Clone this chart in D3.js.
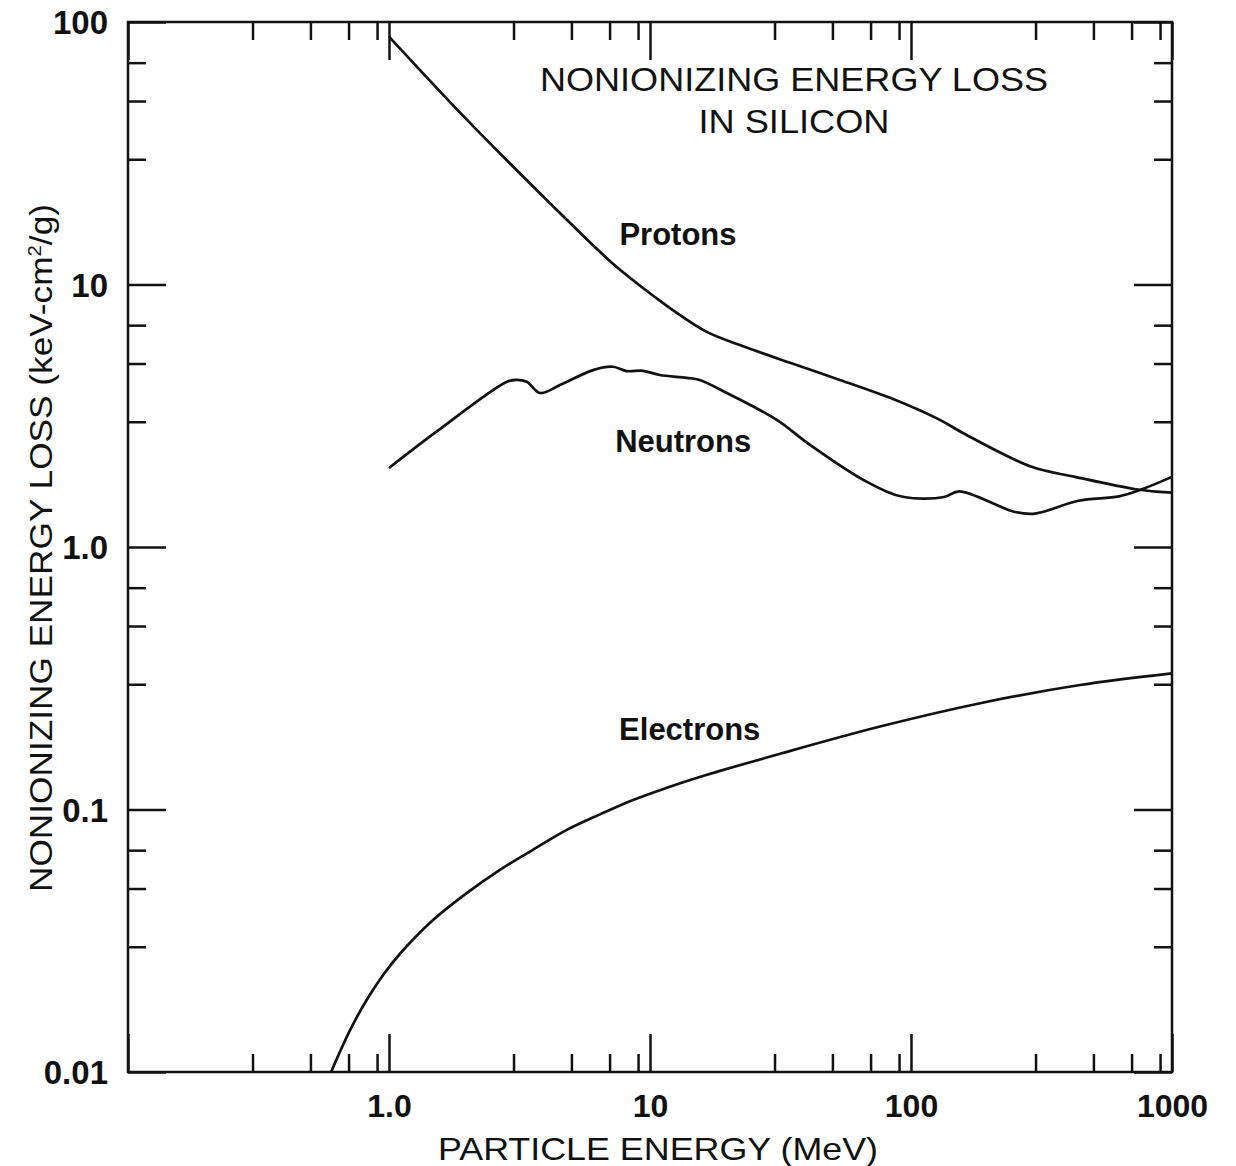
<!DOCTYPE html>
<html>
<head>
<meta charset="utf-8">
<script src="https://cdn.jsdelivr.net/npm/d3@7"></script>
<style>
  body { margin: 0; background: #fff; }
  svg text { font-family: "Liberation Sans", Arial, Helvetica, sans-serif; fill: #111; }
</style>
</head>
<body>
<div id="chart"></div>
<script>
/* DATA ([energy MeV, loss keV-cm2/g]) */
const protons = [
  [1.0, 88], [1.92, 44], [4.02, 21.0], [7.21, 12.0], [10.6, 8.86], [12.2, 8.0],
  [16.5, 6.6], [22.1, 5.88], [34.4, 5.03], [53.4, 4.33], [83.1, 3.70], [129, 3.05],
  [160, 2.70], [290, 2.02], [425, 1.85], [726, 1.66], [1000, 1.61]
];
const neutrons = [
  [1.0, 2.0], [1.52, 2.75], [2.83, 4.26], [3.08, 4.33], [3.37, 4.26], [3.79, 3.86],
  [4.52, 4.14], [6.05, 4.72], [7.21, 4.86], [8.14, 4.68], [9.4, 4.69], [10.9, 4.52],
  [13.8, 4.41], [15.5, 4.33], [19.7, 3.86], [30.6, 3.05], [41, 2.45], [67.8, 1.77],
  [94, 1.55], [134, 1.55], [153, 1.63], [250, 1.36], [298, 1.34], [438, 1.50],
  [627, 1.56], [767, 1.66], [1000, 1.85]
];
const electrons = [
  [0.6, 0.01], [0.71, 0.01446], [0.822, 0.01884], [0.948, 0.02336], [1.10, 0.02815],
  [1.475, 0.0379], [1.99, 0.0481], [2.66, 0.0589], [3.56, 0.0702], [4.80, 0.0836],
  [6.43, 0.0958], [8.61, 0.1087], [11.6, 0.121], [15.5, 0.133], [31.5, 0.163],
  [76.1, 0.207], [184, 0.254], [444, 0.298], [1000, 0.330]
];
const curveNames = ["Protons", "Neutrons", "Electrons"];

const xMajor = [0.1, 1, 10, 100, 1000];
const xMajorLabels = ["", "1.0", "10", "100", "1000"];
const xMinor = [0.3, 0.5, 0.7, 0.9, 3, 5, 7, 9, 30, 50, 70, 90, 300, 500, 700, 900];
const yMajor = [0.01, 0.1, 1, 10, 100];
const yMajorLabels = ["0.01", "0.1", "1.0", "10", "100"];
const yMinor = [0.03, 0.05, 0.07, 0.3, 0.5, 0.7, 3, 5, 7, 30, 50, 70];

const titleLines = ["NONIONIZING ENERGY LOSS", "IN SILICON"];
const xTitle = "PARTICLE ENERGY (MeV)";

/* CONSTANTS */
const width = 1236, height = 1166;
const margin = { top: 22, right: 64, bottom: 94, left: 128 };
const majorLen = 38, minorLen = 18;

const svg = d3.select("#chart").append("svg")
  .attr("width", width)
  .attr("height", height);

const xScale = d3.scaleLog().domain([0.1, 1000]).range([margin.left, width - margin.right]);
const yScale = d3.scaleLog().domain([0.01, 100]).range([height - margin.bottom, margin.top]);

// ticks on all four sides, pointing in
function addAxis(axisFn, scale, values, len, labels, transform, cls) {
  const ax = axisFn(scale).tickValues(values).tickSize(-len).tickSizeOuter(0)
    .tickFormat((d, i) => labels ? labels[i] : "");
  const g = svg.append("g").attr("class", cls).attr("transform", transform).call(ax);
  g.select(".domain").remove();
  g.selectAll(".tick line").attr("stroke", "#111").attr("stroke-width", 2.5);
  return g;
}

const bottomY = height - margin.bottom, rightX = width - margin.right;
addAxis(d3.axisBottom, xScale, xMinor, minorLen, null, `translate(0,${bottomY})`, "xminor");
const xLab = addAxis(d3.axisBottom, xScale, xMajor, majorLen, xMajorLabels, `translate(0,${bottomY})`, "xmajor");
xLab.selectAll(".tick text").attr("y", 22).attr("dy", "0.71em")
  .style("font-size", "32px").style("font-weight", "bold");
addAxis(d3.axisTop, xScale, xMinor, minorLen, null, `translate(0,${margin.top})`, "xminor-top");
addAxis(d3.axisTop, xScale, xMajor, majorLen, null, `translate(0,${margin.top})`, "xmajor-top");

addAxis(d3.axisLeft, yScale, yMinor, minorLen, null, `translate(${margin.left},0)`, "yminor");
const yLab = addAxis(d3.axisLeft, yScale, yMajor, majorLen, yMajorLabels, `translate(${margin.left},0)`, "ymajor");
yLab.selectAll(".tick text").attr("x", -20).attr("dy", "0.36em")
  .style("font-size", "33px").style("font-weight", "bold");
addAxis(d3.axisRight, yScale, yMinor, minorLen, null, `translate(${rightX},0)`, "yminor-right");
addAxis(d3.axisRight, yScale, yMajor, majorLen, null, `translate(${rightX},0)`, "ymajor-right");

// frame
svg.append("rect")
  .attr("x", margin.left).attr("y", margin.top)
  .attr("width", rightX - margin.left).attr("height", bottomY - margin.top)
  .attr("fill", "none").attr("stroke", "#111").attr("stroke-width", 2.5);

// curves
const line = d3.line()
  .x(d => xScale(d[0]))
  .y(d => yScale(d[1]))
  .curve(d3.curveCatmullRom.alpha(0.5));

svg.selectAll("path.curve")
  .data([protons, neutrons, electrons])
  .join("path")
  .attr("class", "curve")
  .attr("fill", "none")
  .attr("stroke", "#111")
  .attr("stroke-width", 2.7)
  .attr("stroke-linejoin", "round")
  .attr("d", line);

// curve labels
const labelPos = [[12.8, 14.1], [13.4, 2.3], [14.2, 0.184]];
svg.selectAll("text.curve-label")
  .data(curveNames)
  .join("text")
  .attr("class", "curve-label")
  .attr("x", (d, i) => xScale(labelPos[i][0]))
  .attr("y", (d, i) => yScale(labelPos[i][1]))
  .attr("text-anchor", "middle")
  .style("font-size", "31px")
  .style("font-weight", "bold")
  .text(d => d);

// title
const titleLens = [508, 191];
svg.selectAll("text.title")
  .data(titleLines)
  .join("text")
  .attr("class", "title")
  .attr("x", 794)
  .attr("y", (d, i) => 91 + i * 42)
  .attr("text-anchor", "middle")
  .attr("textLength", (d, i) => titleLens[i])
  .attr("lengthAdjust", "spacingAndGlyphs")
  .style("font-size", "33px")
  .text(d => d);

// axis titles
svg.append("text")
  .attr("x", 658).attr("y", 1160)
  .attr("text-anchor", "middle")
  .attr("textLength", 440).attr("lengthAdjust", "spacingAndGlyphs")
  .style("font-size", "32px")
  .text(xTitle);

const yt = svg.append("text")
  .attr("transform", `translate(52,548) rotate(-90)`)
  .attr("text-anchor", "middle")
  .attr("textLength", 688).attr("lengthAdjust", "spacingAndGlyphs")
  .style("font-size", "31px");
yt.append("tspan").text("NONIONIZING ENERGY LOSS (keV-cm");
yt.append("tspan").attr("dy", -11).style("font-size", "18px").text("2");
yt.append("tspan").attr("dy", 11).text("/g)");
</script>
</body>
</html>
